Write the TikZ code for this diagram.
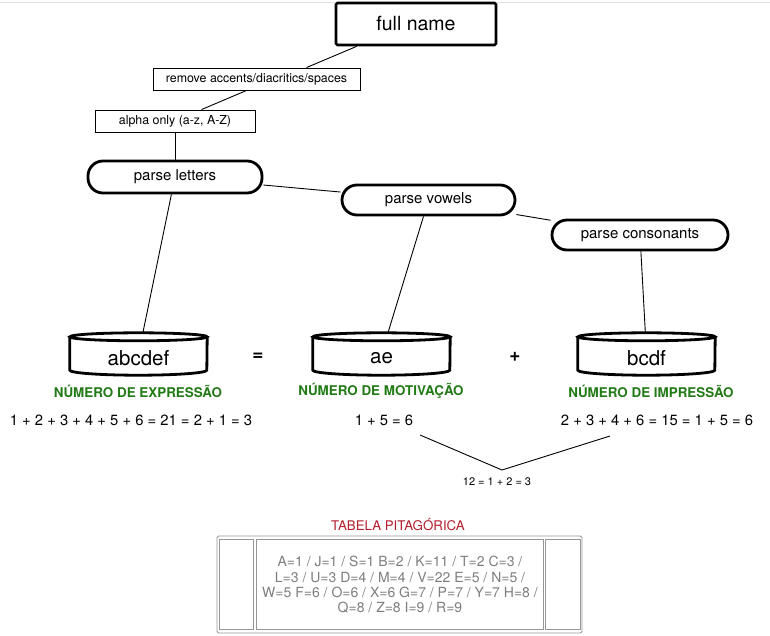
\documentclass[tikz,border=0pt]{standalone}
\usepackage{fontspec}
\setmainfont{TeX Gyre Heros}
\usetikzlibrary{calc}
\definecolor{lblgreen}{RGB}{34,122,22}
\definecolor{tabred}{RGB}{178,30,45}
\definecolor{tabgray}{RGB}{125,125,125}
\definecolor{tabline}{RGB}{150,150,150}
\newcommand{\fs}[1]{\fontsize{#1}{#1}\selectfont}
\newcommand{\drawcyl}[1]{%
  \draw[cylline] ($(#1.north west)+(0,4)$) -- ($(#1.south west)+(0,-5)$)
    arc[start angle=180,end angle=360,x radius=68.5pt,y radius=5pt]
    -- ($(#1.north east)+(0,4)$);
  \draw[cylline] ($(#1.north)+(0,4)$) ellipse[x radius=68.5pt,y radius=4pt];}
\begin{document}
\begin{tikzpicture}[x=1pt,y=-1pt,
  thinbox/.style={draw,line width=0.9pt,inner sep=0pt,minimum height=22pt,font=\fs{12.4}},
  bigbox/.style={draw,line width=2.8pt,rounded corners=1.5pt,inner sep=0pt,minimum width=160pt,minimum height=42pt,font=\fs{19.5}},
  stadium/.style={draw,line width=2.8pt,rounded corners=15pt,inner sep=0pt,minimum height=30pt,font=\fs{15}},
  cylnode/.style={inner sep=0pt,minimum width=137pt,minimum height=42pt},
  cyltext/.style={font=\fs{20.5}},
  cylline/.style={line width=2.8pt},
  conn/.style={line width=0.9pt},
  grlbl/.style={text=lblgreen,font=\bfseries\fs{13.4}},
  formula/.style={font=\fs{14.8}},
  opsym/.style={font=\bfseries\fs{19}},
  cellbox/.style={draw=tabline,line width=0.9pt}]
\useasboundingbox (0,0) rectangle (770,636);
\draw[black!12,line width=0.9pt] (0,2.5) -- (770,2.5);

\node[bigbox] (fn) at (416,24) {full name};
\node[thinbox,minimum width=207pt] (rm) at (256.5,79) {remove accents/diacritics/spaces};
\node[thinbox,minimum width=160pt] (al) at (175,121) {alpha only (a-z, A-Z)};
\node[stadium,minimum width=174pt,minimum height=32pt] (pl) at (175,177) {parse letters};
\node[stadium,minimum width=173pt] (pv) at (428.5,200) {parse vowels};
\node[stadium,minimum width=176pt] (pc) at (640,235) {parse consonants};

\draw[conn] ($(fn.south west)+(22,0)$) -- ($(rm.north west)+(154,0)$);
\draw[conn] ($(rm.south west)+(94,0)$) -- ($(al.north west)+(107,0)$);
\draw[conn] (al.south) -- (pl.north);
\draw[conn] (pl) -- (pv);
\draw[conn] (pv) -- (pc);

\node[cylnode] (abc) at (138.5,354) {};
\node[cylnode] (ae) at (381.5,354) {};
\node[cylnode] (bcdf) at (646.5,354) {};
\drawcyl{abc}
\drawcyl{ae}
\drawcyl{bcdf}
\node[cyltext] (abct) at (138.5,358) {abcdef};
\node[cyltext] (aet) at (381.5,358) {ae};
\node[cyltext] (bcdft) at (646.5,358) {bcdf};

\draw[conn] (pl) -- (abc);
\draw[conn] (pv) -- (ae);
\draw[conn] (pc) -- (bcdf);

\node[opsym] (eq) at (258,357) {=};
\node[opsym] (plus) at (515,357) {+};

\node[grlbl] (l1) at (138,391) {NÚMERO DE EXPRESSÃO};
\node[grlbl] (l2) at (381,391) {NÚMERO DE MOTIVAÇÃO};
\node[grlbl] (l3) at (651,391) {NÚMERO DE IMPRESSÃO};

\node[formula] (f1) at (131,420) {1 + 2 + 3 + 4 + 5 + 6 = 21 = 2 + 1 = 3};
\node[formula] (f2) at (384,420) {1 + 5 = 6};
\node[formula] (f3) at (657,420) {2 + 3 + 4 + 6 = 15 = 1 + 5 = 6};

\coordinate (v1) at (420,435);
\coordinate (v2) at (502,470);
\coordinate (v3) at (610,436);
\draw[conn] (v1) -- (v2) -- (v3);
\node[font=\fs{11}] (sum) at (497,482) {12 = 1 + 2 = 3};

\node[text=tabred,font=\fs{13.3}] (tt) at (398,525) {TABELA PITAGÓRICA};
\draw[cellbox,rounded corners=1.5pt] (217,536) rectangle (582,633);
\draw[cellbox] (219,539) rectangle (253,629);
\draw[cellbox] (256,539) rectangle (543,629);
\draw[cellbox] (545,539) rectangle (580,629);
\node[text=tabgray,align=center,font=\fontsize{14}{15.3}\selectfont] (tab) at (400,585)
  {A=1 / J=1 / S=1 B=2 / K=11 / T=2 C=3 /\\
   L=3 / U=3 D=4 / M=4 / V=22 E=5 / N=5 /\\
   W=5 F=6 / O=6 / X=6 G=7 / P=7 / Y=7 H=8 /\\
   Q=8 / Z=8 I=9 / R=9};
\end{tikzpicture}
\end{document}
